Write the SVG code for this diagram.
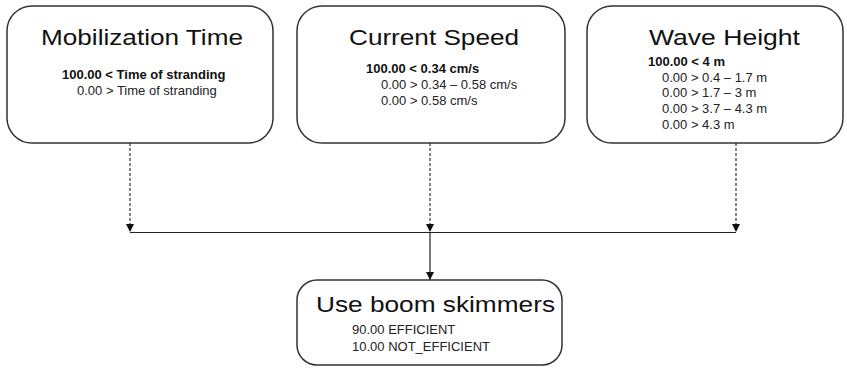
<svg xmlns="http://www.w3.org/2000/svg" width="847" height="368" viewBox="0 0 847 368">
<defs>
<style>
.box{fill:#fff;stroke:#333;stroke-width:1.5}
.title{font-family:"Liberation Sans",Arial,sans-serif;font-size:22px;fill:#111;text-anchor:middle}
.b{font-family:"Liberation Sans",Arial,sans-serif;font-size:13px;font-weight:bold;fill:#111}
.t{font-family:"Liberation Sans",Arial,sans-serif;font-size:13px;fill:#222}
.dash{stroke:#222;stroke-width:1.1;stroke-dasharray:3,2;fill:none}
.solid{stroke:#222;stroke-width:1.2;fill:none}
</style>
<marker id="ah" viewBox="0 0 10 10" refX="10" refY="5" markerWidth="8" markerHeight="8" markerUnits="userSpaceOnUse" orient="auto">
<path d="M0,0 L10,5 L0,10 z" fill="#111"/>
</marker>
</defs>
<rect width="847" height="368" fill="#fff"/>
<g id="connectors">
<line class="dash" x1="130" y1="143" x2="130" y2="232" marker-end="url(#ah)"/>
<line class="dash" x1="430" y1="143" x2="430" y2="232" marker-end="url(#ah)"/>
<line class="dash" x1="736" y1="143" x2="736" y2="232" marker-end="url(#ah)"/>
<line class="solid" x1="130" y1="232.5" x2="736" y2="232.5"/>
<line class="solid" x1="430" y1="232" x2="430" y2="280" marker-end="url(#ah)"/>
</g>
<g id="mobilization">
<rect class="box" x="7" y="6" width="266" height="137" rx="25"/>
<text class="title" x="142" y="45" textLength="202" lengthAdjust="spacingAndGlyphs">Mobilization Time</text>
<text class="b" x="62" y="79">100.00 &lt; Time of stranding</text>
<text class="t" x="77" y="95">0.00 &gt; Time of stranding</text>
</g>
<g id="current">
<rect class="box" x="297" y="6" width="268" height="137" rx="25"/>
<text class="title" x="434" y="45" textLength="170" lengthAdjust="spacingAndGlyphs">Current Speed</text>
<text class="b" x="366" y="73">100.00 &lt; 0.34 cm/s</text>
<text class="t" x="381" y="89">0.00 &gt; 0.34 – 0.58 cm/s</text>
<text class="t" x="381" y="105">0.00 &gt; 0.58 cm/s</text>
</g>
<g id="wave">
<rect class="box" x="587" y="6" width="256" height="137" rx="25"/>
<text class="title" x="724.5" y="45" textLength="151" lengthAdjust="spacingAndGlyphs">Wave Height</text>
<text class="b" x="648" y="66">100.00 &lt; 4 m</text>
<text class="t" x="662" y="82">0.00 &gt; 0.4 – 1.7 m</text>
<text class="t" x="662" y="97">0.00 &gt; 1.7 – 3 m</text>
<text class="t" x="662" y="113">0.00 &gt; 3.7 – 4.3 m</text>
<text class="t" x="662" y="129">0.00 &gt; 4.3 m</text>
</g>
<g id="boom">
<rect class="box" x="297" y="280" width="265" height="85" rx="20"/>
<text class="title" x="435.5" y="312" textLength="239" lengthAdjust="spacingAndGlyphs">Use boom skimmers</text>
<text class="t" x="352" y="334">90.00 EFFICIENT</text>
<text class="t" x="352" y="351">10.00 NOT_EFFICIENT</text>
</g>
</svg>
